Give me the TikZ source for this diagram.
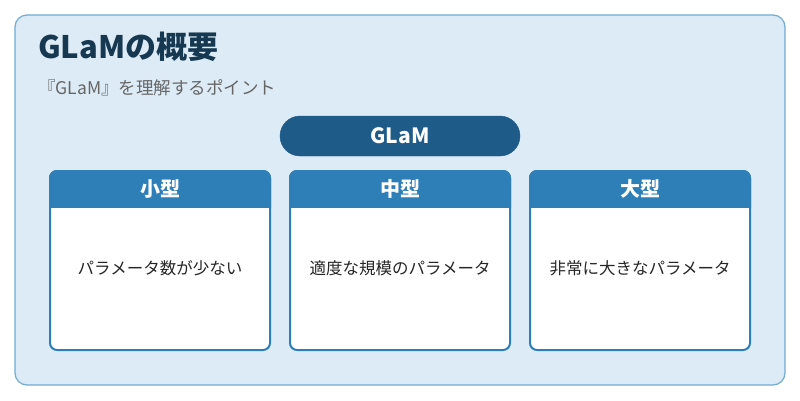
\documentclass[tikz,border=0pt]{standalone}
\usepackage{fontspec}
\setmainfont{Noto Sans CJK JP}
\begin{document}
\begin{tikzpicture}[x=1pt,y=-1pt,
  hdr/.style={draw=hblue,fill=hblue,line width=2pt,rounded corners=7pt},
  card/.style={draw=hblue,fill=white,line width=2pt,rounded corners=7pt},
  htxt/.style={text=white,font=\fontsize{20}{24}\selectfont\bfseries},
  btxt/.style={text=black!85,font=\fontsize{16.5}{20}\selectfont}]
\definecolor{hblue}{HTML}{2E7FB8}
\definecolor{bgb}{HTML}{DCEBF6}
\definecolor{bord}{HTML}{6FAAD3}
\definecolor{pill}{HTML}{1E5B88}
\definecolor{ttl}{HTML}{163850}
\useasboundingbox (0,0) rectangle (800,400);
\draw[draw=bord,fill=bgb,line width=1.2pt,rounded corners=12pt] (15,15) rectangle (785,385);
\node[anchor=west,text=ttl,font=\fontsize{31}{36}\selectfont\bfseries,inner sep=0pt] (title) at (38,47) {GLaMの概要};
\node[anchor=west,text=black!60,font=\fontsize{17.5}{21}\selectfont,inner sep=0pt] (sub) at (38,88) {『GLaM』を理解するポイント};
\draw[fill=pill,draw=pill,rounded corners=20pt] (280,116) rectangle (520,156);
\node[htxt,font=\fontsize{21}{24}\selectfont\bfseries] (glam) at (400,136) {GLaM};
\foreach \x/\h/\b/\n in {50/小型/パラメータ数が少ない/a,290/中型/適度な規模のパラメータ/b,530/大型/非常に大きなパラメータ/c}{
  \draw[card] (\x,171) rectangle (\x+220,350);
  \begin{scope}
  \clip (\x-2,169) rectangle (\x+222,207);
  \draw[hdr] (\x,171) rectangle (\x+220,230);
  \end{scope}
  \node[htxt] (h\n) at (\x+110,189) {\h};
  \node[btxt] (b\n) at (\x+110,268) {\b};
}
\end{tikzpicture}
\end{document}
